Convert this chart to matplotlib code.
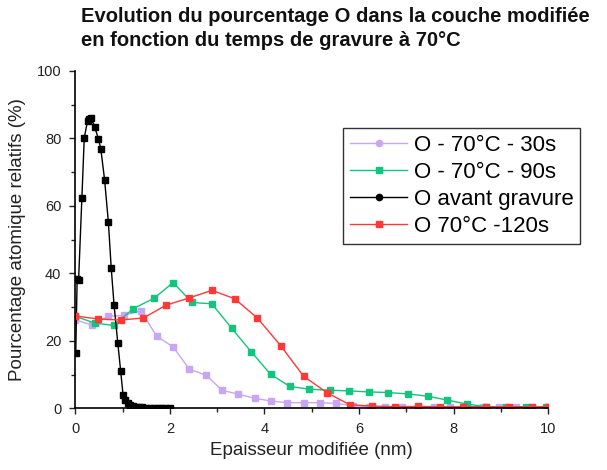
import matplotlib
matplotlib.use('Agg')
import matplotlib.pyplot as plt
from matplotlib.lines import Line2D

plt.rcParams['font.family'] = ['Liberation Sans', 'DejaVu Sans']

# données
x_30s = [0.0, 0.345, 0.69, 1.035, 1.38, 1.725, 2.07, 2.415, 2.76, 3.105,
         3.45, 3.795, 4.14, 4.485, 4.83, 5.175, 5.52, 5.865, 6.21, 6.555,
         6.9, 7.245, 7.59, 7.935, 8.28, 8.625, 8.97, 9.315, 9.66, 10.0]
y_30s = [26.3, 24.7, 27.3, 27.6, 28.9, 21.4, 18.2, 11.6, 9.9, 5.4,
         4.2, 3.0, 2.2, 1.7, 1.7, 1.7, 1.5, 0.8, 0.5, 0.4,
         0.4, 0.4, 0.3, 0.4, 0.3, 0.5, 0.4, 0.3, 0.3, 0.3]

x_90s = [0.0, 0.41, 0.81, 1.23, 1.66, 2.07, 2.47, 2.89, 3.31, 3.72,
         4.13, 4.54, 4.95, 5.38, 5.78, 6.21, 6.62, 7.04, 7.46, 7.86,
         8.28, 8.69, 9.11, 9.53, 9.95]
y_90s = [27.3, 25.3, 24.6, 29.6, 32.6, 37.3, 31.4, 31.0, 23.7, 16.8,
         10.1, 6.5, 5.7, 5.4, 5.2, 4.9, 4.7, 4.3, 3.6, 2.5,
         1.3, 0.5, 0.3, 0.3, 0.3]

x_avant = [0.01, 0.04, 0.07, 0.14, 0.19, 0.26, 0.30, 0.34, 0.41, 0.49,
           0.54, 0.62, 0.70, 0.76, 0.82, 0.90, 0.96, 1.01, 1.06, 1.11,
           1.16, 1.22, 1.28, 1.35, 1.42, 1.50, 1.58, 1.66, 1.74, 1.82,
           1.90, 2.0]
y_avant = [16.5, 38.5, 38.0, 62.4, 80.2, 85.2, 85.7, 86.2, 83.4, 79.9,
           76.9, 67.8, 55.2, 41.7, 30.7, 19.3, 11.1, 4.1, 2.6, 1.5,
           1.0, 0.7, 0.5, 0.4, 0.3, 0.2, 0.2, 0.1, 0.1, 0.1,
           0.1, 0.1]

x_120s = [0.0, 0.48, 0.96, 1.44, 1.92, 2.40, 2.89, 3.37, 3.85, 4.35,
          4.83, 5.32, 5.80, 6.28, 6.76, 7.24, 7.72, 8.20, 8.69, 9.18,
          9.66, 10.0]
y_120s = [27.4, 26.5, 26.2, 26.8, 30.6, 32.7, 35.0, 32.5, 26.8, 18.5,
          9.5, 4.7, 1.1, 0.7, 0.5, 0.6, 0.5, 0.5, 0.5, 0.5,
          0.5, 0.5]

labels = ['O - 70°C - 30s', 'O - 70°C - 90s', 'O avant gravure', 'O 70°C -120s']
couleurs = ['#C9A6F5', '#12C47E', '#000000', '#FF3838']
marqueurs_legende = ['o', 's', 'o', 's']

fig = plt.figure(figsize=(6.07, 4.70), dpi=100)
ax = fig.add_axes([0.124, 0.131, 0.779, 0.718])

series = [(x_30s, y_30s), (x_90s, y_90s), (x_avant, y_avant), (x_120s, y_120s)]
for (xs, ys), c in zip(series, couleurs):
    ax.plot(xs, ys, color=c, lw=1.0, marker='s', ms=4.5, mec=c, mfc=c)

ax.set_xlim(0, 10)
ax.set_ylim(0, 100)
ax.set_xticks([0, 2, 4, 6, 8, 10])
ax.set_xticks([1, 3, 5, 7, 9], minor=True)
ax.set_yticks([0, 20, 40, 60, 80, 100])
ax.set_yticks([10, 30, 50, 70, 90], minor=True)
ax.tick_params(which='both', direction='out', labelsize=10.5, width=1, colors='#222222')
ax.tick_params(which='major', length=4, pad=6)
ax.tick_params(which='minor', length=3)
for s in ['top', 'right']:
    ax.spines[s].set_visible(False)
ax.spines['left'].set_linewidth(1.2)
ax.spines['bottom'].set_linewidth(1.2)

ax.set_xlabel('Epaisseur modifiée (nm)', fontsize=13.5, color='#222222', labelpad=4)
ax.set_ylabel('Pourcentage atomique relatifs (%)', fontsize=13.5, color='#222222', labelpad=8)

handles = [Line2D([], [], color=c, lw=1.0, marker=m, ms=4.5, mec=c, mfc=c)
           for c, m in zip(couleurs, marqueurs_legende)]
leg = fig.legend(handles, labels, loc='upper left', bbox_to_anchor=(0.565, 0.728),
                 fontsize=16, frameon=True, fancybox=False, edgecolor='black',
                 borderpad=0.3, labelspacing=0.28, handlelength=2.6,
                 handletextpad=0.3, borderaxespad=0)
leg.get_frame().set_linewidth(1.0)

fig.text(0.133, 0.985, 'Evolution du pourcentage O dans la couche modifiée\n'
         'en fonction du temps de gravure à 70°C',
         ha='left', va='top', fontsize=14.5, fontweight='bold', linespacing=1.35,
         color='#111111')

fig.savefig('out.png', dpi=100)
